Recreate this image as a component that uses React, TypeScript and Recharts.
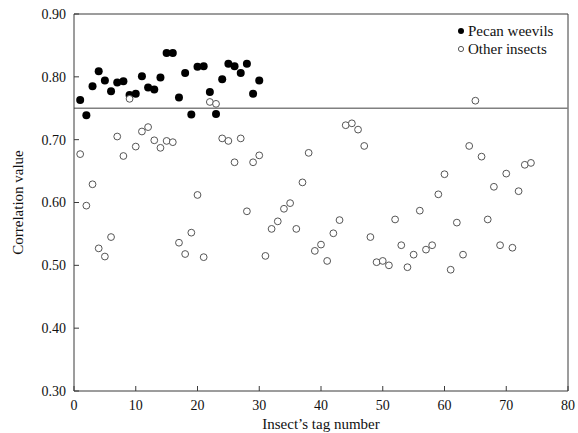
import { ReferenceLine, Scatter, ScatterChart, XAxis, YAxis } from 'recharts';

// Tag numbers run 1..n for each group
const weevilValues = [
  0.763, 0.739, 0.785, 0.809, 0.794, 0.777, 0.791, 0.793, 0.771, 0.773,
  0.801, 0.783, 0.780, 0.799, 0.838, 0.838, 0.767, 0.806, 0.740, 0.816,
  0.817, 0.776, 0.741, 0.796, 0.821, 0.817, 0.806, 0.821, 0.773, 0.794,
];

const otherValues = [
  0.677, 0.595, 0.629, 0.527, 0.514, 0.545, 0.705, 0.674, 0.765, 0.689,
  0.713, 0.720, 0.699, 0.687, 0.698, 0.696, 0.536, 0.518, 0.552, 0.612,
  0.513, 0.760, 0.757, 0.702, 0.698, 0.664, 0.702, 0.586, 0.664, 0.675,
  0.515, 0.558, 0.570, 0.590, 0.599, 0.558, 0.632, 0.679, 0.523, 0.533,
  0.507, 0.551, 0.572, 0.723, 0.726, 0.716, 0.690, 0.545, 0.505, 0.507,
  0.500, 0.573, 0.532, 0.497, 0.517, 0.587, 0.525, 0.532, 0.613, 0.645,
  0.493, 0.568, 0.517, 0.690, 0.762, 0.673, 0.573, 0.625, 0.532, 0.646,
  0.528, 0.618, 0.660, 0.663,
];

const xTicks = [0, 10, 20, 30, 40, 50, 60, 70, 80];
const yTicks = [0.3, 0.4, 0.5, 0.6, 0.7, 0.8, 0.9];
const threshold = 0.75;

const weevilData = weevilValues.map((v, i) => ({ tag: i + 1, value: v }));
const otherData = otherValues.map((v, i) => ({ tag: i + 1, value: v }));

const axisColor = '#3a3a3a';
const font = '"Liberation Serif", "Times New Roman", serif';

function FilledDot(props: any) {
  return <circle cx={props.cx} cy={props.cy} r={4} fill="#000" />;
}

function HollowDot(props: any) {
  return <circle cx={props.cx} cy={props.cy} r={3.4} fill="#fff" stroke="#555" strokeWidth={1} />;
}

// custom tick text so the serif font is really used
function XTick(props: any) {
  return (
    <text x={props.x} y={props.y} dy="0.71em" textAnchor="middle" fontSize={14} fontFamily={font} fill="#111">
      {props.payload.value}
    </text>
  );
}

function YTick(props: any) {
  return (
    <text x={props.x} y={props.y} dy="0.355em" textAnchor="end" fontSize={14} fontFamily={font} fill="#111">
      {Number(props.payload.value).toFixed(2)}
    </text>
  );
}

export default function App() {
  return (
    <div style={{ position: 'relative', width: 578, height: 433, fontFamily: font, background: '#fff' }}>
      <style>{'body{margin:0}'}</style>
      <ScatterChart width={578} height={433} margin={{ top: 14, right: 10, bottom: 0, left: 0 }} style={{ fontFamily: font }}>
        <XAxis
          type="number"
          dataKey="tag"
          domain={[0, 80]}
          ticks={xTicks}
          height={42}
          stroke={axisColor}
          tickSize={-5}
          tickMargin={14}
          tick={XTick}
          label={{ value: 'Insect’s tag number', position: 'insideBottom', offset: 4, fill: '#111', fontSize: 15, fontFamily: font }}
        />
        <YAxis
          type="number"
          dataKey="value"
          domain={[0.3, 0.9]}
          ticks={yTicks}
          width={74}
          stroke={axisColor}
          tickSize={-5}
          tickMargin={13}
          tick={YTick}
          label={{
            value: 'Correlation value',
            angle: -90,
            position: 'insideLeft',
            offset: 18,
            fill: '#111',
            fontSize: 15,
            fontFamily: font,
            style: { textAnchor: 'middle' },
          }}
        />
        <ReferenceLine y={0.9} stroke={axisColor} />
        <ReferenceLine x={80} stroke={axisColor} />
        <ReferenceLine y={threshold} stroke="#808080" strokeWidth={1.5} />
        <Scatter data={weevilData} shape={FilledDot} isAnimationActive={false} />
        <Scatter data={otherData} shape={HollowDot} isAnimationActive={false} />
      </ScatterChart>
      <div style={{ position: 'absolute', left: 456, top: 22, fontSize: 15, lineHeight: '18px', color: '#111' }}>
        <div style={{ display: 'flex', alignItems: 'center' }}>
          <svg width={10} height={10} style={{ marginRight: 2 }}>
            <circle cx={5} cy={5} r={3} fill="#000" />
          </svg>
          <span>Pecan weevils</span>
        </div>
        <div style={{ display: 'flex', alignItems: 'center' }}>
          <svg width={10} height={10} style={{ marginRight: 2 }}>
            <circle cx={5} cy={5} r={2.6} fill="none" stroke="#444" strokeWidth={0.9} />
          </svg>
          <span>Other insects</span>
        </div>
      </div>
    </div>
  );
}
